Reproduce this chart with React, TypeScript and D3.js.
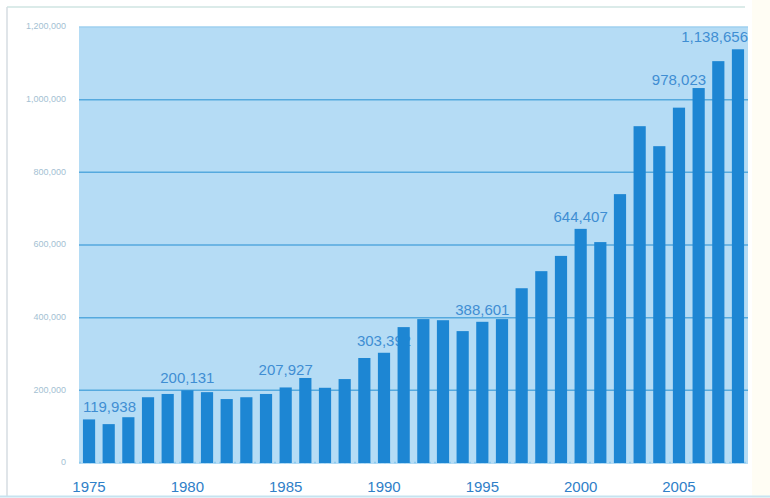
import React from "react";
import * as d3 from "d3";

const years: number[] = d3.range(1975, 2009);
const values: number[] = [
  119938, 107000, 126000, 181000, 190000, 200131, 195000, 176000, 181000, 190000,
  207927, 234000, 207000, 231000, 289000, 303392, 374000, 396000, 393000, 363000,
  388601, 396000, 481000, 528000, 570000, 644407, 608000, 740000, 927000, 872000,
  978023, 1032000, 1106000, 1138656,
];
const labelYears: number[] = [1975, 1980, 1985, 1990, 1995, 2000, 2005, 2008];
const labelTexts: string[] = ["119,938", "200,131", "207,927", "303,392", "388,601", "644,407", "978,023", "1,138,656"];
const yTicks: number[] = [0, 200000, 400000, 600000, 800000, 1000000, 1200000];
const yTickLabels: string[] = ["0", "200,000", "400,000", "600,000", "800,000", "1,000,000", "1,200,000"];
const xTickYears: number[] = [1975, 1980, 1985, 1990, 1995, 2000, 2005];

const W = 770;
const H = 498;
const plot = { left: 79, right: 748, top: 27, bottom: 464 };
const LABEL_FS = 15;
const CHAR_W = 0.556 * LABEL_FS;

export default function App() {
  const x = d3
    .scaleBand<number>()
    .domain(years)
    .range([plot.left, plot.right])
    .paddingInner(0.38)
    .paddingOuter(0.2);
  const y = d3.scaleLinear().domain([0, 1200000]).range([plot.bottom - 1, plot.top]);
  const bw = x.bandwidth();
  const font = "'Liberation Sans', Arial, Helvetica, sans-serif";

  return (
    <svg
      width={W}
      height={H}
      style={{ position: "absolute", left: 0, top: 0, background: "#ffffff" }}
    >
      <rect x={752} y={0} width={W - 752} height={H} fill="#fffdf4" />
      <line x1={7} x2={745} y1={7} y2={7} stroke="#cfe4e2" strokeWidth={1.5} />
      <line x1={7} x2={7} y1={7} y2={H - 2} stroke="#d6dde2" strokeWidth={1.5} />
      <line x1={0} x2={W} y1={H - 1.5} y2={H - 1.5} stroke="#c6e3f0" strokeWidth={2} />

      <rect
        x={plot.left}
        y={plot.top}
        width={plot.right - plot.left}
        height={plot.bottom - plot.top}
        fill="#b5dcf5"
      />
      {yTicks.slice(1).map((t) => (
        <line
          key={t}
          x1={plot.left}
          x2={plot.right}
          y1={y(t)}
          y2={y(t)}
          stroke={t === 1200000 ? "#9fd0ef" : "#55a9de"}
          strokeWidth={1.5}
        />
      ))}
      <line
        x1={plot.left}
        x2={plot.right}
        y1={plot.bottom - 1.5}
        y2={plot.bottom - 1.5}
        stroke="#8ccaf0"
        strokeWidth={1.5}
        strokeDasharray="2,3"
      />

      {yTicks.map((t, i) => (
        <text
          key={t}
          x={66}
          y={y(t)}
          textAnchor="end"
          dominantBaseline="middle"
          fontFamily={font}
          fontSize={9}
          fill="#a4bfd3"
        >
          {yTickLabels[i]}
        </text>
      ))}

      {labelYears.map((yr, i) => {
        const idx = years.indexOf(yr);
        const v = values[idx];
        const text = labelTexts[i];
        const width = text.length * CHAR_W;
        let x0: number;
        let anchor: "start" | "middle" | "end" = "middle";
        let tx: number;
        if (i === 0) {
          tx = x(yr) as number;
          anchor = "start";
          x0 = tx;
        } else if (i === labelYears.length - 1) {
          tx = plot.right;
          anchor = "end";
          x0 = tx - width;
        } else {
          tx = (x(yr) as number) + bw / 2;
          x0 = tx - width / 2;
        }
        const x1 = x0 + width;
        const ownTop = y(v);
        let ty = ownTop - 7;
        // lift above neighbouring bars under the label that are only slightly taller
        years.forEach((yy, j) => {
          const bx = x(yy) as number;
          if (bx + bw > x0 && bx < x1) {
            const top = y(values[j]);
            if (top < ownTop && ownTop - top < 20) ty = Math.min(ty, top - 3);
          }
        });
        return (
          <text
            key={yr}
            x={tx}
            y={ty}
            textAnchor={anchor}
            fontFamily={font}
            fontSize={LABEL_FS}
            fill="#3f8ed3"
          >
            {text}
          </text>
        );
      })}

      {years.map((yr, i) => (
        <rect
          key={yr}
          x={x(yr)}
          y={y(values[i])}
          width={bw}
          height={y(0) - y(values[i])}
          fill="#1d86d3"
        />
      ))}

      {xTickYears.map((yr) => (
        <text
          key={yr}
          x={(x(yr) as number) + bw / 2}
          y={492}
          textAnchor="middle"
          fontFamily={font}
          fontSize={15}
          fill="#2f80c8"
        >
          {yr}
        </text>
      ))}
    </svg>
  );
}
